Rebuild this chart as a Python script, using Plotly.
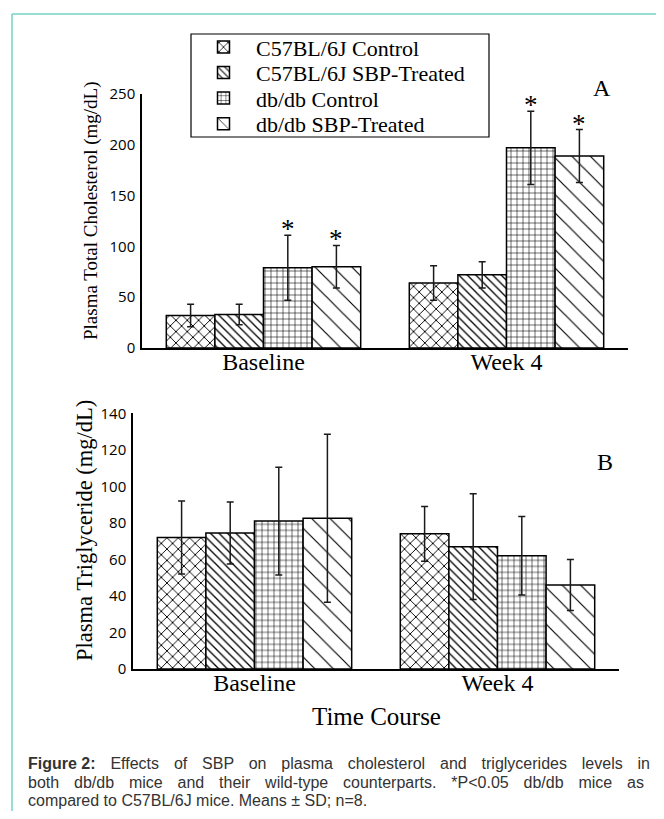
import plotly.graph_objects as go

# ---------------- data ----------------
time_points = ["Baseline", "Week 4"]
groups = ["C57BL/6J Control", "C57BL/6J SBP-Treated", "db/db Control", "db/db SBP-Treated"]

# Panel A: plasma total cholesterol (mg/dL), mean and SD
chol_c57_ctrl = [32, 64]
chol_c57_sbp = [33, 72]
chol_db_ctrl = [79, 197]
chol_db_sbp = [80, 189]
chol_c57_ctrl_sd = [11, 17]
chol_c57_sbp_sd = [10, 13]
chol_db_ctrl_sd = [32, 36]
chol_db_sbp_sd = [21, 26]
chol_significant = [False, False, True, True]   # *P<0.05 vs C57BL/6J

# Panel B: plasma triglyceride (mg/dL), mean and SD
tg_c57_ctrl = [72, 74]
tg_c57_sbp = [74.5, 67]
tg_db_ctrl = [81, 62]
tg_db_sbp = [82.5, 46]
tg_c57_ctrl_sd = [20, 15]
tg_c57_sbp_sd = [17, 29]
tg_db_ctrl_sd = [29.5, 21.5]
tg_db_sbp_sd = [46, 14]

chol_means = [chol_c57_ctrl, chol_c57_sbp, chol_db_ctrl, chol_db_sbp]
chol_sds = [chol_c57_ctrl_sd, chol_c57_sbp_sd, chol_db_ctrl_sd, chol_db_sbp_sd]
tg_means = [tg_c57_ctrl, tg_c57_sbp, tg_db_ctrl, tg_db_sbp]
tg_sds = [tg_c57_ctrl_sd, tg_c57_sbp_sd, tg_db_ctrl_sd, tg_db_sbp_sd]

# ---------------- style ----------------
# the page body has an 8px margin, so the figure is made smaller and offset
OX, OY = 8, 8
W, H = 664 - 2 * OX, 819 - 2 * OY
SERIF = "Liberation Serif, Times New Roman, serif"
SANS = "Open Sans, Arial, sans-serif"
CAP = "Liberation Sans, Arial, sans-serif"


def fx(p):
    return (p - OX) / W


def fy(p):
    return 1 - (p - OY) / H


patterns = [
    dict(shape="x", size=8, solidity=0.22),
    dict(shape="\\", size=6, solidity=0.22),
    dict(shape="+", size=6, solidity=0.18),
    dict(shape="\\", size=13, solidity=0.09),
]
legend_ids = ["legend", "legend2", "legend3", "legend4"]

fig = go.Figure()

for j, name in enumerate(groups):
    pat = dict(fgcolor="black", bgcolor="white", fillmode="replace", **patterns[j])
    for means, sds, xa, ya, show in [(chol_means, chol_sds, "x", "y", True),
                                     (tg_means, tg_sds, "x2", "y2", False)]:
        fig.add_trace(go.Bar(
            x=time_points, y=means[j], name=name,
            xaxis=xa, yaxis=ya,
            legend=legend_ids[j], showlegend=show,
            marker=dict(color="white", line=dict(color="black", width=1.5), pattern=pat),
            error_y=dict(type="data", array=sds[j], visible=True, color="#1a1a1a",
                         thickness=1.5, width=3.5),
        ))

# asterisks above significant bars (panel A)
n = len(groups)
for j in range(n):
    if not chol_significant[j]:
        continue
    off = -0.4 + 0.8 / n * (j + 0.5)
    for i in range(len(time_points)):
        fig.add_annotation(x=i + off, y=chol_means[j][i] + chol_sds[j][i], xref="x", yref="y",
                           text="*", showarrow=False, yanchor="bottom", yshift=-11,
                           font=dict(family=SERIF, size=27, color="black"))

axis_common = dict(showline=True, linecolor="black", linewidth=1.5, showgrid=False,
                   zeroline=False, ticks="", mirror=False)

fig.update_layout(
    width=W, height=H,
    margin=dict(l=0, r=0, t=0, b=0, pad=0, autoexpand=False),
    paper_bgcolor="white", plot_bgcolor="white",
    barmode="group", bargap=0.2, bargroupgap=0,
    xaxis=dict(domain=[fx(142), fx(628)], anchor="y", tickfont=dict(family=SERIF, size=24, color="black"),
               ticklabelstandoff=-9, **axis_common),
    yaxis=dict(domain=[fy(348), fy(94)], anchor="x", range=[0, 250], tickvals=[0, 50, 100, 150, 200, 250],
               tickfont=dict(family=SANS, size=15, color="black"), ticklabelstandoff=2, **axis_common),
    xaxis2=dict(domain=[fx(133), fx(619)], anchor="y2", tickfont=dict(family=SERIF, size=24, color="black"),
                ticklabelstandoff=-9, **axis_common),
    yaxis2=dict(domain=[fy(669), fy(413.3)], anchor="x2", range=[0, 140],
                tickvals=[0, 20, 40, 60, 80, 100, 120, 140],
                tickfont=dict(family=SANS, size=15, color="black"), ticklabelstandoff=2, **axis_common),
    showlegend=True,
)

# legends: one entry per legend so row spacing matches
row_centers = [47.3, 72.7, 98.3, 124]
for j, lid in enumerate(legend_ids):
    fig.update_layout({lid: dict(x=fx(191), xanchor="left", y=fy(row_centers[j]), yanchor="middle",
                                 bgcolor="rgba(0,0,0,0)", borderwidth=0, itemwidth=55,
                                 font=dict(family=SERIF, size=22, color="black"))})

shapes = [
    # legend frame
    dict(type="rect", xref="paper", yref="paper", x0=fx(191), x1=fx(489), y0=fy(137), y1=fy(34),
         line=dict(color="black", width=1.2), fillcolor="rgba(0,0,0,0)", layer="below"),
    # teal page border
    dict(type="line", xref="paper", yref="paper", x0=fx(12), x1=1.05, y0=fy(14), y1=fy(14),
         line=dict(color="#74d2c6", width=1.5)),
    dict(type="line", xref="paper", yref="paper", x0=fx(12), x1=fx(12), y0=fy(14), y1=-0.05,
         line=dict(color="#74d2c6", width=1.5)),
]
fig.update_layout(shapes=shapes)

annos = [
    dict(text="A", x=fx(602), y=fy(88), font=dict(family=SERIF, size=24)),
    dict(text="B", x=fx(605), y=fy(462), font=dict(family=SERIF, size=24)),
    dict(text="Plasma Total Cholesterol (mg/dL)", x=fx(91), y=fy(211), textangle=-90,
         font=dict(family=SERIF, size=19)),
    dict(text="Plasma Triglyceride (mg/dL)", x=fx(84), y=fy(531), textangle=-90,
         font=dict(family=SERIF, size=22.5)),
    dict(text="Time Course", x=fx(376), y=fy(716), font=dict(family=SERIF, size=25)),
]
for a in annos:
    a["font"]["color"] = "black"
    fig.add_annotation(xref="paper", yref="paper", showarrow=False, xanchor="center", yanchor="middle", **a)

TS = "\u2009\u2009"   # extra spacing to mimic justified lines
HS = "\u200a"
GAP = " " + TS + HS * 3
line1 = "Effects of SBP on plasma cholesterol and triglycerides levels in".replace(" ", GAP)
line2 = "both db/db mice and their wild-type counterparts. *P<0.05 db/db mice as".replace(" ", GAP)
caption = [
    "<b>Figure 2:</b>" + GAP + line1,
    line2,
    "compared to C57BL/6J mice. Means \u00b1 SD; n=8.",
]
cap_y = [763, 782, 800]
for t, yy in zip(caption, cap_y):
    fig.add_annotation(xref="paper", yref="paper", x=fx(26), y=fy(yy), xanchor="left", yanchor="middle",
                       text=t, showarrow=False, font=dict(family=CAP, size=16, color="#333"))

fig.write_html("out.html")
